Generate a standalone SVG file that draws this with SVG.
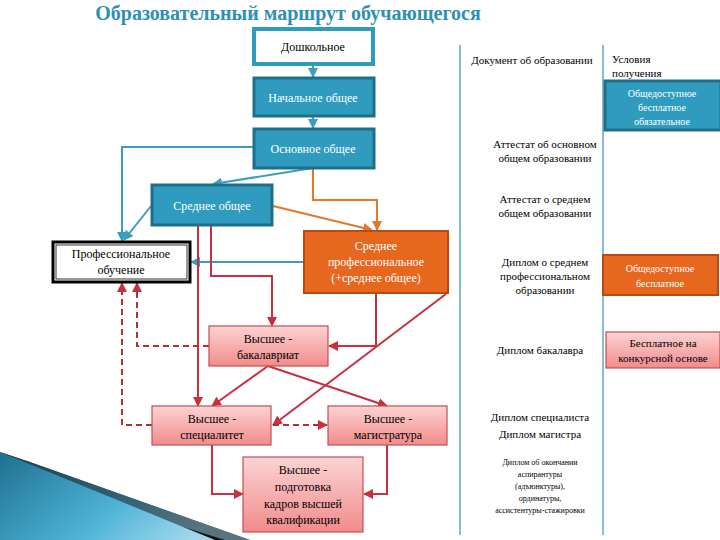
<svg xmlns="http://www.w3.org/2000/svg" width="720" height="540" viewBox="0 0 720 540" font-family="'Liberation Serif','DejaVu Serif',serif">
<defs>
<linearGradient id="pk" x1="0" y1="0" x2="0" y2="1"><stop offset="0" stop-color="#fbd3d3"/><stop offset="1" stop-color="#f28b8b"/></linearGradient>
<linearGradient id="sw" x1="0" y1="0" x2="1" y2="0.4"><stop offset="0" stop-color="#1f6f8f"/><stop offset="0.6" stop-color="#4db3d6"/><stop offset="1" stop-color="#9fd8ec"/></linearGradient>
<marker id="at" viewBox="0 0 10 10" refX="9" refY="5" markerWidth="5" markerHeight="5" orient="auto"><path d="M0,0L10,5L0,10z" fill="#3a9fbf"/></marker>
<marker id="ao" viewBox="0 0 10 10" refX="9" refY="5" markerWidth="5" markerHeight="5" orient="auto"><path d="M0,0L10,5L0,10z" fill="#e07a2a"/></marker>
<marker id="ar" viewBox="0 0 10 10" refX="9" refY="5" markerWidth="5" markerHeight="5" orient="auto"><path d="M0,0L10,5L0,10z" fill="#c83040"/></marker>
</defs>
<style>
text{font-family:'Liberation Serif','DejaVu Serif',serif;font-size:12px;text-anchor:middle}
.w{fill:#fff}
.tb{fill:#2e9bbf;stroke:#1f6f8b;stroke-width:3}
.pb{fill:url(#pk);stroke:#c0504d;stroke-width:1.2}
.ob{fill:#e8671f;stroke:#b84a12;stroke-width:2}
.t{fill:none;stroke:#3a9fbf;stroke-width:2;marker-end:url(#at)}
.o{fill:none;stroke:#e07a2a;stroke-width:2;marker-end:url(#ao)}
.r{fill:none;stroke:#c83040;stroke-width:2;marker-end:url(#ar)}
.d{fill:none;stroke:#b03030;stroke-width:2;stroke-dasharray:6,4;marker-end:url(#ar)}
.xs{font-size:8px}
.m{font-size:11px}
</style>
<polygon points="0,452 250,540 0,540" fill="url(#sw)"/>
<polygon points="0,452 30,462 250,540 215,540" fill="#111"/>
<polygon points="0,452 30,462 250,540 225,540 0,470" fill="url(#sw)" opacity="0.5"/>
<text x="288" y="20" style="font-size:20px;font-weight:bold;fill:#2e8fb5">Образовательный маршрут обучающегося</text>
<line x1="460" y1="45" x2="460" y2="535" stroke="#3a8fb0" stroke-width="1.2"/>
<line x1="603" y1="45" x2="603" y2="535" stroke="#3a8fb0" stroke-width="1.2"/>
<g id="connectors">
<path class="t" d="M313,64V77"/>
<path class="t" d="M313,117V128"/>
<path class="t" d="M253,147H122V241"/>
<path class="t" d="M313,168L213,184"/>
<path class="t" d="M151,206L124,240"/>
<path class="o" d="M313,168V200H377V230"/>
<path class="o" d="M273,206L372,230"/>
<path class="t" d="M304,262H191"/>
<path class="r" d="M198,226V406"/>
<path class="r" d="M211,226V276H272V326"/>
<path class="r" d="M376,293V346H329"/>
<path class="r" d="M446,294L273,425"/>
<path class="r" d="M268,366L212,406"/>
<path class="r" d="M268,366L387,406"/>
<path class="d" d="M273,425H327"/>
<path class="d" d="M152,425H122V283"/>
<path class="d" d="M209,346H137V283"/>
<path class="r" d="M212,445V494H243"/>
<path class="r" d="M387,445V494H364"/>
</g>
<g id="n1"><rect x="254" y="29" width="119" height="35" fill="#fff" stroke="#2e9bbf" stroke-width="4"/><text x="313" y="51">Дошкольное</text></g>
<g id="n2"><rect x="254" y="78" width="120" height="38" class="tb"/><text x="313" y="102" class="w">Начальное общее</text></g>
<g id="n3"><rect x="254" y="129" width="120" height="39" class="tb"/><text x="313" y="153" class="w">Основное общее</text></g>
<g id="n4"><rect x="152" y="185" width="120" height="40" class="tb"/><text x="212" y="210" class="w">Среднее общее</text></g>
<g id="n5"><rect x="53" y="242" width="137" height="40" fill="#fff" stroke="#000" stroke-width="3"/><rect x="56" y="245" width="131" height="34" fill="none" stroke="#000" stroke-width="0.8"/><text x="121" y="258">Профессиональное</text><text x="121" y="274">обучение</text></g>
<g id="n6"><rect x="304" y="231" width="144" height="62" class="ob"/><text x="376" y="250" class="w">Среднее</text><text x="376" y="266" class="w">профессиональное</text><text x="376" y="282" class="w">(+среднее общее)</text></g>
<g id="n7"><rect x="209" y="326" width="119" height="40" class="pb"/><text x="268" y="343">Высшее -</text><text x="268" y="359">бакалавриат</text></g>
<g id="n8"><rect x="152" y="406" width="119" height="39" class="pb"/><text x="212" y="423">Высшее -</text><text x="212" y="439">специалитет</text></g>
<g id="n9"><rect x="328" y="406" width="119" height="39" class="pb"/><text x="388" y="423">Высшее -</text><text x="388" y="439">магистратура</text></g>
<g id="n10"><rect x="243" y="457" width="120" height="75" class="pb"/><text x="303" y="474">Высшее -</text><text x="303" y="491">подготовка</text><text x="303" y="508">кадров высшей</text><text x="303" y="524">квалификации</text></g>
<g id="docs">
<text x="532" y="64" class="m">Документ об образовании</text>
<text x="612" y="63" class="m" style="text-anchor:start">Условия</text>
<text x="612" y="77" class="m" style="text-anchor:start">получения</text>
<text x="545" y="148" class="m">Аттестат об основном</text>
<text x="545" y="162" class="m">общем образовании</text>
<text x="545" y="203" class="m">Аттестат о среднем</text>
<text x="545" y="217" class="m">общем образовании</text>
<text x="545" y="266" class="m">Диплом о среднем</text>
<text x="545" y="280" class="m">профессиональном</text>
<text x="545" y="294" class="m">образовании</text>
<text x="540" y="354" class="m">Диплом бакалавра</text>
<text x="540" y="421" class="m">Диплом специалиста</text>
<text x="540" y="438" class="m">Диплом магистра</text>
<text x="540" y="465" class="xs">Диплом об окончании</text>
<text x="540" y="477" class="xs">аспирантуры</text>
<text x="540" y="489" class="xs">(адъюнктуры),</text>
<text x="540" y="501" class="xs">ординатуры,</text>
<text x="540" y="513" class="xs">ассистентуры-стажировки</text>
</g>
<g id="c1"><rect x="605" y="81" width="116" height="49" class="tb"/><text x="662" y="97" class="w" style="font-size:10px">Общедоступное</text><text x="662" y="111" class="w" style="font-size:10px">бесплатное</text><text x="662" y="125" class="w" style="font-size:10px">обязательное</text></g>
<g id="c2"><rect x="603" y="255" width="115" height="40" class="ob"/><text x="660" y="272" class="w" style="font-size:10px">Общедоступное</text><text x="660" y="287" class="w" style="font-size:10px">бесплатное</text></g>
<g id="c3"><rect x="606" y="332" width="114" height="36" class="pb"/><text x="663" y="347" class="m">Бесплатное на</text><text x="663" y="362" class="m">конкурсной основе</text></g>
</svg>
